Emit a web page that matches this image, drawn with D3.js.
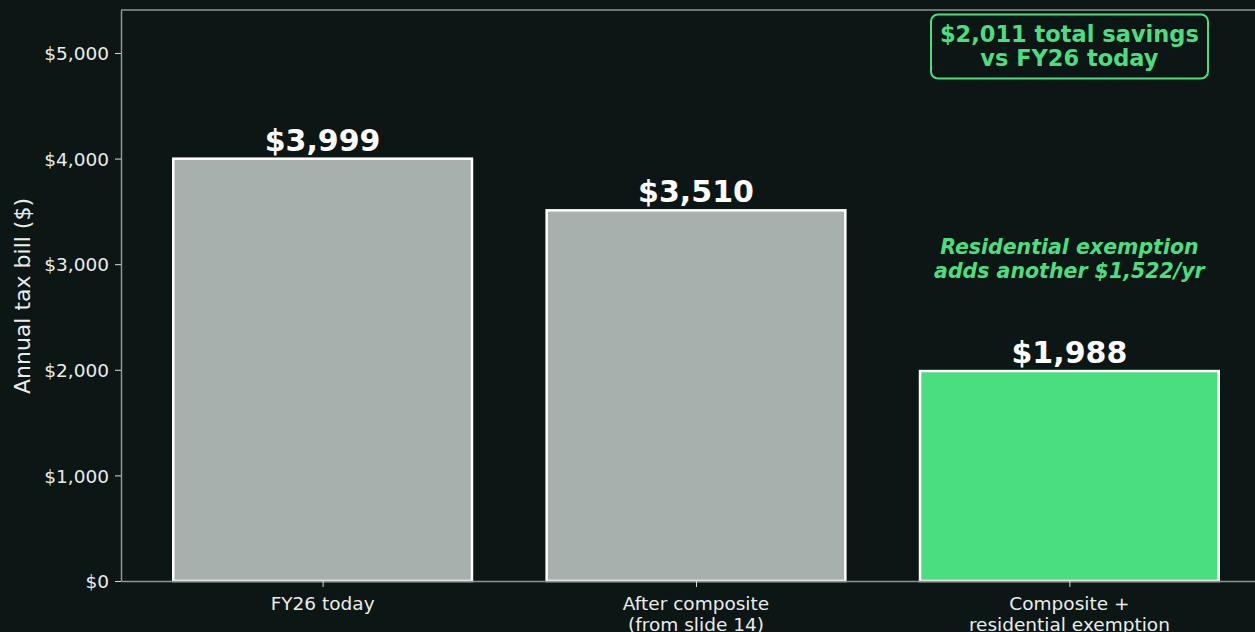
<!DOCTYPE html>
<html>
<head>
<meta charset="utf-8">
<script src="https://cdn.jsdelivr.net/npm/d3@7"></script>
<style>
  html, body { margin: 0; padding: 0; background: #0c1614; overflow: hidden; }
  svg { display: block; font-family: "DejaVu Sans", sans-serif; }
</style>
</head>
<body>
<svg id="chart" width="1255" height="632"></svg>
<script>
// Annual tax bill under each scenario
const categories = [["FY26 today"], ["After composite", "(from slide 14)"], ["Composite +", "residential exemption"]];
const bills = [3999, 3510, 1988];
const barColors = ["#a7b0ad", "#a7b0ad", "#4ade80"];
const yTicks = [0, 1000, 2000, 3000, 4000, 5000];
const savingsNote = ["$2,011 total savings", "vs FY26 today"];
const exemptionNote = ["Residential exemption", "adds another $1,522/yr"];

const W = 1255, H = 632;
const plot = { left: 121, right: 1271, top: 10, bottom: 581 };

const svg = d3.select("#chart");
svg.append("rect").attr("width", W).attr("height", H).attr("fill", "#0c1614");

// categorical axis laid out like a band axis with 0.8-wide bars
const x = d3.scaleLinear().domain([-0.54, 2.54]).range([plot.left, plot.right]);
const y = d3.scaleLinear().domain([0, 5407]).range([plot.bottom, plot.top]);
const barW = x(0.8) - x(0);

// spines
const spine = "#8e9693";
svg.append("line").attr("x1", plot.left).attr("x2", plot.right).attr("y1", plot.top).attr("y2", plot.top)
  .attr("stroke", spine).attr("stroke-width", 1.5);
svg.append("line").attr("x1", plot.right).attr("x2", plot.right).attr("y1", plot.top).attr("y2", plot.bottom)
  .attr("stroke", spine).attr("stroke-width", 1.5);

// bars
svg.selectAll("rect.bar").data(bills).enter().append("rect")
  .attr("class", "bar")
  .attr("x", (d, i) => x(i) - barW / 2)
  .attr("width", barW)
  .attr("y", d => y(d))
  .attr("height", d => y(0) - y(d))
  .attr("fill", (d, i) => barColors[i])
  .attr("stroke", "#ffffff")
  .attr("stroke-width", 2.5);

// y axis
const yAxis = d3.axisLeft(y).tickValues(yTicks).tickFormat(d => "$" + d3.format(",")(d))
  .tickSize(6).tickSizeOuter(0).tickPadding(6);
const gy = svg.append("g").attr("transform", `translate(${plot.left},0)`).call(yAxis);
gy.select(".domain").attr("stroke", spine).attr("stroke-width", 1.5);
gy.selectAll(".tick line").attr("stroke", "#d8dcdb").attr("stroke-width", 1);
gy.selectAll(".tick text").attr("fill", "#eaedec").attr("font-size", 18.5)
  .attr("font-family", "DejaVu Sans").attr("dy", "0.36em");

// x axis
const xAxis = d3.axisBottom(x).tickValues([0, 1, 2]).tickFormat("").tickSize(6).tickSizeOuter(0);
const gx = svg.append("g").attr("transform", `translate(0,${plot.bottom})`).call(xAxis);
gx.select(".domain").attr("stroke", spine).attr("stroke-width", 1.5);
gx.selectAll(".tick line").attr("stroke", "#d8dcdb").attr("stroke-width", 1);

categories.forEach((lines, i) => {
  const t = svg.append("text").attr("text-anchor", "middle").attr("fill", "#eaedec")
    .attr("font-size", 18.5).attr("x", x(i));
  lines.forEach((ln, j) => t.append("tspan").attr("x", x(i)).attr("y", 610 + j * 21).text(ln));
});

// y axis title
svg.append("text").attr("transform", "translate(30,296) rotate(-90)")
  .attr("text-anchor", "middle").attr("fill", "#eaedec").attr("font-size", 22)
  .text("Annual tax bill ($)");

// value labels
svg.selectAll("text.val").data(bills).enter().append("text")
  .attr("class", "val")
  .attr("x", (d, i) => x(i))
  .attr("y", d => y(d) - 8)
  .attr("text-anchor", "middle").attr("fill", "#ffffff")
  .attr("font-size", 30).attr("font-weight", "bold")
  .text(d => "$" + d3.format(",")(d));

// savings callout box
const green = "#4ade80";
const bx = x(2);
svg.append("rect").attr("x", 931).attr("y", 14.5).attr("width", 277).attr("height", 64)
  .attr("rx", 7).attr("fill", "#0c1614").attr("stroke", green).attr("stroke-width", 2);
const st = svg.append("text").attr("text-anchor", "middle").attr("fill", green)
  .attr("font-size", 22.5).attr("font-weight", "bold");
savingsNote.forEach((ln, j) => st.append("tspan").attr("x", bx).attr("y", 42 + j * 24).text(ln));

// exemption note
const et = svg.append("text").attr("text-anchor", "middle").attr("fill", green)
  .attr("font-size", 20.5).attr("font-weight", "bold").attr("font-style", "italic");
exemptionNote.forEach((ln, j) => et.append("tspan").attr("x", bx).attr("y", 254 + j * 24).text(ln));
</script>
</body>
</html>
